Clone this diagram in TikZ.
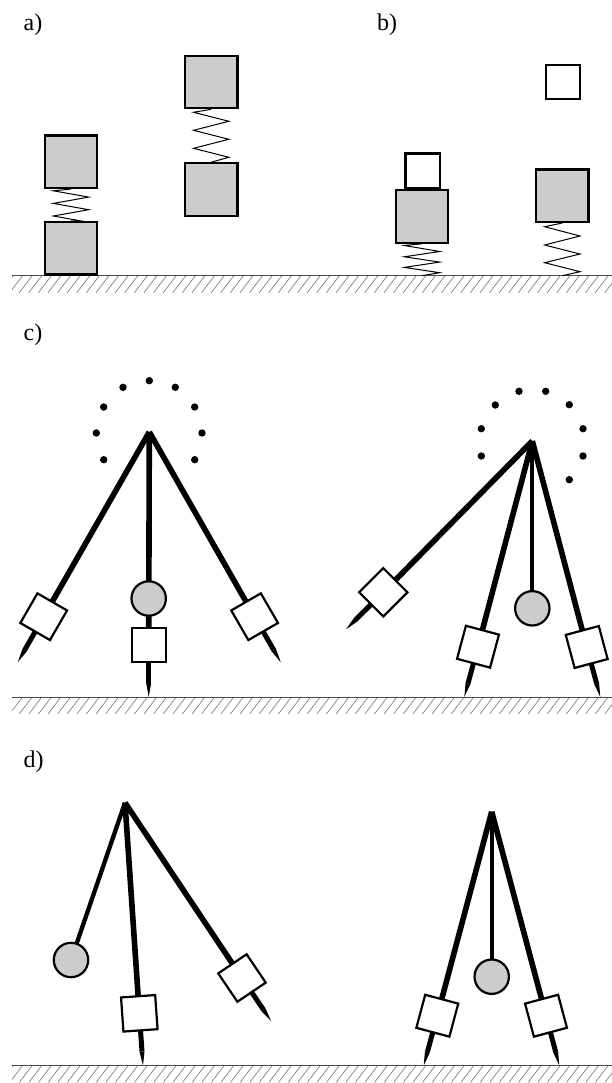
\documentclass[tikz,border=0pt]{standalone}
\usepackage{fontspec}
\setmainfont{Liberation Serif}
\usetikzlibrary{arrows.meta,backgrounds}
\definecolor{massgray}{gray}{0.8}
\tikzset{
  grayblock/.style={draw=black,line width=2.2pt,fill=massgray,minimum size=52.4pt,inner sep=0pt},
  whiteblock/.style={draw=black,line width=2.2pt,fill=white,minimum size=34.2pt,inner sep=0pt},
  ball/.style={draw=black,line width=2.2pt,fill=massgray,circle,minimum size=34.4pt,inner sep=0pt},
  dotmark/.style={fill=black,circle,minimum size=7.4pt,inner sep=0pt},
  springline/.style={draw=black,line width=1pt,line join=miter},
  rod/.style={draw=black,line width=5.6pt},
  thinrod/.style={draw=black,line width=4.3pt},
  needle/.style={draw=black,line width=5pt,-{Triangle[length=14pt,width=5pt,line width=0pt,sep=0pt]}},
  lab/.style={anchor=base west,inner sep=0pt,font=\fontsize{24}{29}\selectfont},
  groundline/.style={draw=black!70,line width=1pt},
  hatchline/.style={draw=black!55,line width=0.6pt}
}
\newcommand{\grnd}[1]{%
  \begin{scope}
    \clip (12,#1) rectangle (612,#1+16.5);
    \foreach \hx in {0,9.6,...,640}{
      \draw[hatchline] (\hx,#1+17) -- (\hx+13,#1);
    }
  \end{scope}
  \draw[groundline] (12,#1) -- (612,#1);
}
\newcommand{\rodto}[3]{%
  \begin{pgfonlayer}{background}
    \draw[needle] (#2.center) -- (#3);
    \draw[rod] (#1) -- (#2.center);
  \end{pgfonlayer}
}
\begin{document}
\begin{tikzpicture}[x=1pt,y=-1pt]
\useasboundingbox (0,0) rectangle (612,1083);
\begin{pgfonlayer}{background}
\fill[white] (0,0) rectangle (612,1083);
\end{pgfonlayer}

\node[lab] (la) at (23.5,31) {a)};
\node[lab] (lb) at (377,31) {b)};
\node[lab] (lc) at (23.5,340) {c)};
\node[lab] (ld) at (23.5,767) {d)};

\grnd{275.7}
\grnd{697}
\grnd{1065.5}

% a)
\node[grayblock] (a1) at (71,161.8) {};
\node[grayblock] (a2) at (71,248.2) {};
\node[grayblock] (a3) at (211.2,82) {};
\node[grayblock] (a4) at (211.2,189.5) {};
\draw[springline] (a1.south) -- ++(-17.7,1.7) -- ++(35.4,6.3) -- ++(-35.4,6.3) -- ++(35.4,6.3) -- ++(-35.4,6.3) -- ++(35.4,6.3) -- (a2.north);
\draw[springline] (a3.south) -- ++(-17.7,3) -- ++(35.4,9) -- ++(-35.4,9) -- ++(35.4,9) -- ++(-35.4,9) -- ++(35.4,9) -- (a4.north);

% b)
\node[whiteblock] (b1) at (422.5,170.7) {};
\node[grayblock] (b2) at (422,216.5) {};
\node[whiteblock] (b3) at (563,82) {};
\node[grayblock] (b4) at (562.3,195.7) {};
\coordinate (g1) at (422,275.7);
\coordinate (g2) at (562.3,275.7);
\draw[springline] (b2.south) -- ++(-17.7,1.7) -- ++(35.4,6) -- ++(-35.4,5.3) -- ++(35.4,5.3) -- ++(-35.4,5.3) -- ++(35.4,5.3) -- (g1);
\draw[springline] (b4.south) -- ++(-17.7,3.7) -- ++(35.4,9.3) -- ++(-35.4,9) -- ++(35.4,9) -- ++(-35.4,8.7) -- ++(35.4,9) -- (g2);

% c) left
\coordinate (p1) at (149.3,432);
\coordinate (t1) at (17.7,662.3);
\coordinate (t2) at (148.7,697);
\coordinate (t3) at (280.8,662.3);
\node[whiteblock,rotate=-30] (c1) at (43.7,616.7) {};
\node[whiteblock] (c2) at (148.7,644.7) {};
\node[whiteblock,rotate=30] (c3) at (254.6,616.7) {};
\node[ball] (c4) at (148.7,598.5) {};
\rodto{p1}{c1}{t1}
\rodto{p1}{c2}{t2}
\rodto{p1}{c3}{t3}
\foreach \dx/\dy [count=\di] in {149.3/380.7,123/387.3,175.3/387.3,103.7/407,194.7/407,96.3/433,202/433,103.7/459.7,194.7/459.7}{
  \node[dotmark] (dl\di) at (\dx,\dy) {};
}

% c) right
\coordinate (p2) at (532.3,441);
\coordinate (t4) at (346,629.3);
\coordinate (t5) at (464.3,697);
\coordinate (t6) at (600.3,697);
\node[whiteblock,rotate=-45] (c5) at (383.3,592.3) {};
\node[whiteblock,rotate=-15] (c6) at (478,646.7) {};
\node[whiteblock,rotate=15] (c7) at (586.7,647) {};
\node[ball] (c8) at (532.3,608.3) {};
\rodto{p2}{c5}{t4}
\rodto{p2}{c6}{t5}
\rodto{p2}{c7}{t6}
\begin{pgfonlayer}{background}
  \draw[thinrod] (p2) -- (c8.center);
\end{pgfonlayer}
\foreach \dx/\dy [count=\di] in {519/391.3,545.7/391.3,495.3/405,569.3/404.7,481.3/428.7,583/428.7,481.3/456,583/456,569.3/479.7}{
  \node[dotmark] (dr\di) at (\dx,\dy) {};
}

% d) left
\coordinate (p3) at (125,802.7);
\coordinate (t7) at (143,1065.5);
\coordinate (t8) at (271.3,1021.3);
\node[ball] (d1) at (71,960) {};
\node[whiteblock,rotate=4] (d2) at (139.3,1013.3) {};
\node[whiteblock,rotate=34] (d3) at (242,978) {};
\rodto{p3}{d2}{t7}
\rodto{p3}{d3}{t8}
\begin{pgfonlayer}{background}
  \draw[thinrod] (p3) -- (d1.center);
\end{pgfonlayer}

% d) right
\coordinate (p4) at (491.7,811.7);
\coordinate (t9) at (423.7,1065.5);
\coordinate (t10) at (559.3,1065.5);
\node[whiteblock,rotate=-15] (d4) at (437.3,1015.7) {};
\node[whiteblock,rotate=15] (d5) at (546,1015.7) {};
\node[ball] (d6) at (491.7,976.7) {};
\rodto{p4}{d4}{t9}
\rodto{p4}{d5}{t10}
\begin{pgfonlayer}{background}
  \draw[thinrod] (p4) -- (d6.center);
\end{pgfonlayer}
\end{tikzpicture}
\end{document}
